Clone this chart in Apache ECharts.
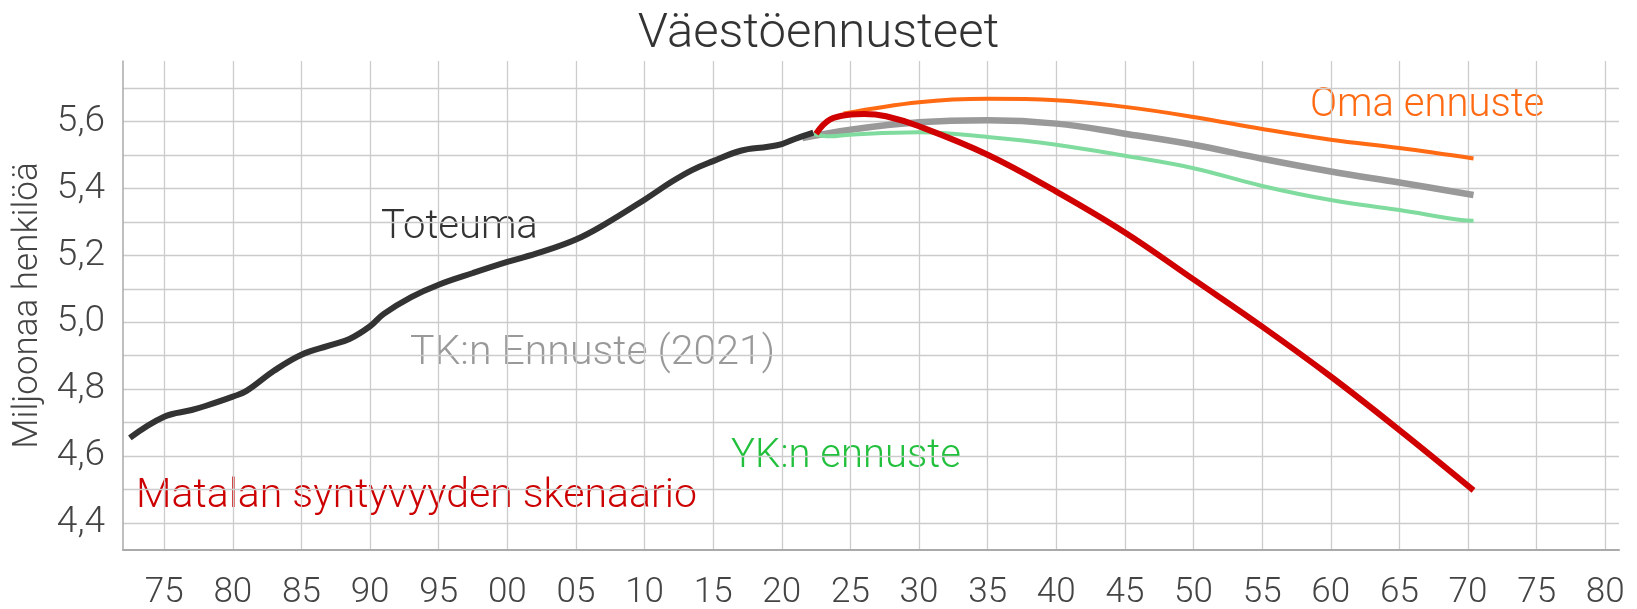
<!DOCTYPE html>
<html>
<head>
<meta charset="utf-8">
<script src="https://cdn.jsdelivr.net/npm/echarts@6/dist/echarts.min.js"></script>
<style>
  html, body { margin: 0; padding: 0; background: #fff; }
  #chart { width: 1637px; height: 609px; }
</style>
</head>
<body>
<div id="chart"></div>
<script>
// vuodet ja arvot luettu kuvasta (milj. henkilöä)
var toteumaYears = [1972.5, 1975, 1977, 1978, 1980, 1981, 1983, 1985, 1987, 1988.5, 1990, 1991, 1993, 1995, 1997.5, 2000, 2002.5, 2005, 2007, 2010, 2012, 2013.5, 2015, 2017, 2019, 2020, 2021, 2022.3];
var toteuma = [4.655, 4.718, 4.738, 4.75, 4.778, 4.795, 4.855, 4.903, 4.93, 4.95, 4.988, 5.025, 5.075, 5.112, 5.147, 5.18, 5.21, 5.247, 5.29, 5.366, 5.42, 5.455, 5.481, 5.512, 5.524, 5.532, 5.548, 5.566];

var tkYears = [2021.5, 2025, 2030, 2035, 2040, 2045, 2050, 2055, 2060, 2065, 2070.4];
var tkEnnuste = [5.55, 5.575, 5.597, 5.603, 5.593, 5.563, 5.53, 5.488, 5.45, 5.417, 5.38];

var ykYears = [2022.3, 2023.5, 2025, 2030, 2035, 2040, 2045, 2050, 2055, 2060, 2065, 2069.5, 2070.4];
var ykEnnuste = [5.562, 5.555, 5.56, 5.567, 5.553, 5.53, 5.497, 5.46, 5.407, 5.365, 5.335, 5.305, 5.303];

var omaYears = [2024.5, 2030, 2035, 2040, 2045, 2050, 2055, 2060, 2065, 2070.4];
var omaEnnuste = [5.623, 5.657, 5.667, 5.663, 5.643, 5.613, 5.577, 5.545, 5.52, 5.489];

var matalaYears = [2022.5, 2023.5, 2025, 2026, 2027.6, 2030, 2035, 2040, 2045, 2050, 2055, 2060, 2065, 2070.4];
var matala = [5.563, 5.605, 5.62, 5.622, 5.615, 5.585, 5.5, 5.39, 5.268, 5.128, 4.987, 4.838, 4.678, 4.498];

var xTicks = [1975, 1980, 1985, 1990, 1995, 2000, 2005, 2010, 2015, 2020, 2025, 2030, 2035, 2040, 2045, 2050, 2055, 2060, 2065, 2070, 2075, 2080];
var yGrid = [4.4, 4.5, 4.6, 4.7, 4.8, 4.9, 5.0, 5.1, 5.2, 5.3, 5.4, 5.5, 5.6, 5.7];
var yLabels = [4.4, 4.6, 4.8, 5.0, 5.2, 5.4, 5.6];

function pairs(xs, ys) {
  return xs.map(function (x, i) { return [x, ys[i]]; });
}

var font = "Roboto";
var myChart = echarts.init(document.getElementById("chart"));

myChart.setOption({
  animation: false,
  title: {
    text: "Väestöennusteet",
    left: "center",
    top: 5,
    textStyle: { fontFamily: font, fontSize: 49, fontWeight: 300, color: "#333" },
  },
  grid: { left: 123, right: 18, top: 61, bottom: 59, outerBoundsMode: "none" },
  xAxis: {
    type: "value",
    min: 1972,
    max: 2081,
    axisLine: { lineStyle: { color: "#aaa", width: 2 } },
    axisTick: { show: false, customValues: xTicks },
    axisLabel: {
      customValues: xTicks,
      margin: 26,
      fontFamily: font,
      fontSize: 35,
      fontWeight: 300,
      color: "#444",
      formatter: function (v) {
        return String(Math.round(v) % 100).padStart(2, "0");
      },
    },
    splitLine: { show: true, lineStyle: { color: "#cccccc", width: 1.3 } },
  },
  yAxis: {
    type: "value",
    min: 4.32,
    max: 5.78,
    name: "Miljoonaa henkilöä",
    nameLocation: "middle",
    nameGap: 76,
    nameTextStyle: { fontFamily: font, fontSize: 35, fontWeight: 300, color: "#444" },
    axisLine: { show: true, lineStyle: { color: "#aaa", width: 1.5 } },
    axisTick: { show: false, customValues: yGrid },
    axisLabel: {
      customValues: yLabels,
      margin: 18,
      fontFamily: font,
      fontSize: 37,
      fontWeight: 300,
      color: "#444",
      formatter: function (v) {
        return v.toFixed(1).replace(".", ",");
      },
    },
    splitLine: { show: true, lineStyle: { color: "#cccccc", width: 1.3 } },
  },
  series: [
    {
      name: "TK:n Ennuste (2021)",
      type: "line",
      data: pairs(tkYears, tkEnnuste),
      smooth: 0.4,
      showSymbol: false,
      lineStyle: { color: "#999999", width: 6.5 },
      z: 2,
    },
    {
      name: "YK:n ennuste",
      type: "line",
      data: pairs(ykYears, ykEnnuste),
      smooth: 0.4,
      showSymbol: false,
      lineStyle: { color: "#80dc9e", width: 4 },
      z: 3,
    },
    {
      name: "Oma ennuste",
      type: "line",
      data: pairs(omaYears, omaEnnuste),
      smooth: 0.4,
      showSymbol: false,
      lineStyle: { color: "#ff6a13", width: 4 },
      z: 4,
    },
    {
      name: "Toteuma",
      type: "line",
      data: pairs(toteumaYears, toteuma),
      smooth: 0.4,
      showSymbol: false,
      lineStyle: { color: "#333333", width: 6 },
      z: 5,
    },
    {
      name: "Matalan syntyvyyden skenaario",
      type: "line",
      data: pairs(matalaYears, matala),
      smooth: 0.4,
      showSymbol: false,
      lineStyle: { color: "#d00000", width: 6 },
      z: 6,
    },
  ],
  graphic: [
    { type: "text", left: 381, top: 208, style: { text: "Toteuma", fontFamily: font, fontSize: 40, fontWeight: 300, fill: "#333" } },
    { type: "text", left: 410, top: 333, style: { text: "TK:n Ennuste (2021)", fontFamily: font, fontSize: 41, fontWeight: 300, fill: "#999" } },
    { type: "text", left: 731, top: 437, style: { text: "YK:n ennuste", fontFamily: font, fontSize: 40, fontWeight: 300, fill: "#22c03c" } },
    { type: "text", left: 136, top: 476, style: { text: "Matalan syntyvyyden skenaario", fontFamily: font, fontSize: 41, fontWeight: 300, fill: "#cc0000" } },
    { type: "text", left: 1310, top: 86, style: { text: "Oma ennuste", fontFamily: font, fontSize: 40, fontWeight: 300, fill: "#ff6a13" } },
  ],
});
</script>
</body>
</html>
